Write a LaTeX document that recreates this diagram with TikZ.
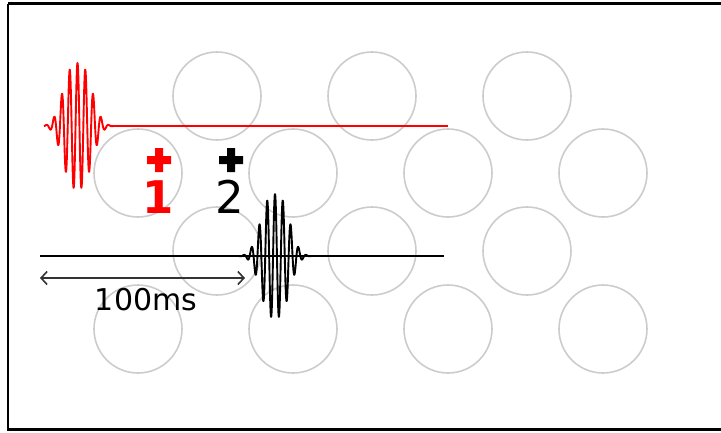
\documentclass[tikz,border=0pt]{standalone}
\usepackage{fontspec}
\setmainfont{DejaVu Sans}
\usetikzlibrary{arrows.meta}
\definecolor{ringgray}{HTML}{CCCCCC}
\definecolor{pktred}{HTML}{FF0000}
\definecolor{arrgray}{HTML}{333333}
\tikzset{
  ring/.style={draw=ringgray, line width=1.6pt},
  packet/.style={line width=1.9pt, line join=round},
  numlabel/.style={anchor=base, inner sep=0pt, font=\fontsize{45}{45}\selectfont},
}
\begin{document}
\begin{tikzpicture}[x=1pt, y=-1pt]
\useasboundingbox (0,0) rectangle (721,432);
% frame
\draw[line width=2.5pt] (8,3.5) -- (724,3.5) (8,3.5) -- (8,429.5) -- (724,429.5);
% rings
\foreach \cx in {217,372,527} {
  \node[ring, circle, minimum size=88pt, inner sep=0pt] (ra\cx) at (\cx,96) {};
  \node[ring, circle, minimum size=88pt, inner sep=0pt] (rc\cx) at (\cx,251) {};
}
\foreach \cx in {138,293,448,603} {
  \node[ring, circle, minimum size=88pt, inner sep=0pt] (rb\cx) at (\cx,173) {};
  \node[ring, circle, minimum size=88pt, inner sep=0pt] (rd\cx) at (\cx,329) {};
}
% red packet and line
\coordinate (redstart) at (44,126);
\coordinate (redend) at (448,126);
\draw[packet, pktred, line width=1.6pt] (110,126) -- (redend);
\draw[packet, pktred] plot[domain=-33.5:36, samples=400, smooth]
  ({\x+77.5}, {126 - 63*exp(-1.95*pow(abs(\x)/23.4+0.0001,2.6))*cos(360*\x/7.8)});
% black packet and line
\coordinate (blkstart) at (40,256);
\coordinate (blkend) at (444,256);
\draw[packet, black, line width=1.6pt] (blkstart) -- (blkend);
\draw[packet, black] plot[domain=-36:36, samples=400, smooth]
  ({\x+275}, {256 - 62*exp(-1.95*pow(abs(\x)/23.4+0.0001,2.6))*cos(360*\x/7.8)});
% crosses
\node[inner sep=0pt] (c1) at (159,160) {};
\fill[pktred] (147,156) rectangle (171,164) (155,148) rectangle (163,172);
\node[inner sep=0pt] (c2) at (231,160) {};
\fill[black] (219,156) rectangle (243,164) (227,148) rectangle (235,172);
% numbers
\node[numlabel, text=pktred, font=\fontsize{45}{45}\selectfont\bfseries] (n1) at (158.5,213) {1};
\node[numlabel] (n2) at (229.5,213) {2};
% time arrow
\coordinate (aL) at (40,278);
\coordinate (aR) at (245,278);
\draw[arrgray, line width=1.6pt, {Straight Barb[length=6pt,width=13pt]}-{Straight Barb[length=6pt,width=13pt]}] (aL) -- (aR);
\node[anchor=base, inner sep=0pt, font=\fontsize{30}{30}\selectfont] (lbl) at (146,310) {100ms};
\end{tikzpicture}
\end{document}
